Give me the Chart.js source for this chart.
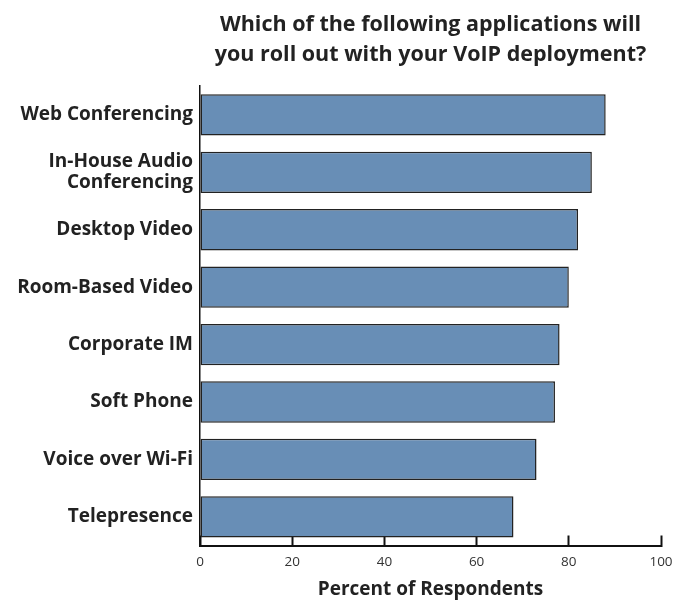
<!DOCTYPE html>
<html>
<head>
<meta charset="utf-8">
<script src="https://cdn.jsdelivr.net/npm/chart.js@4/dist/chart.umd.min.js"></script>
<style>
  html, body { margin: 0; padding: 0; background: #fff; }
  #wrap { width: 675px; height: 600px; }
</style>
</head>
<body>
<div id="wrap"><canvas id="chart"></canvas></div>
<script>
  // chart data
  const categories = [
    'Web Conferencing',
    ['In-House Audio', 'Conferencing'],
    'Desktop Video',
    'Room-Based Video',
    'Corporate IM',
    'Soft Phone',
    'Voice over Wi-Fi',
    'Telepresence'
  ];
  const percentValues = [88, 85, 82, 80, 78, 77, 73, 68];
  const xTicks = [0, 20, 40, 60, 80, 100];
  const titleLines = ['Which of the following applications will', 'you roll out with your VoIP deployment?'];
  const xTitle = 'Percent of Respondents';

  const fontFamily = '"Open Sans", Lato, sans-serif';

  const ctx = document.getElementById('chart').getContext('2d');
  const chart = new Chart(ctx, {
    type: 'bar',
    data: {
      labels: categories,
      datasets: [{
        data: percentValues,
        backgroundColor: '#688eb6',
        borderColor: '#222222',
        borderWidth: 1.5,
        borderSkipped: false,
        categoryPercentage: 1,
        barPercentage: 0.72
      }]
    },
    options: {
      indexAxis: 'y',
      responsive: true,
      maintainAspectRatio: false,
      animation: false,
      layout: { padding: 0 },
      plugins: {
        legend: { display: false },
        tooltip: { enabled: false },
        title: {
          display: true,
          fullSize: false, // centre over the plot area
          text: titleLines,
          color: '#222',
          font: { family: fontFamily, size: 21.5, weight: 'bold', lineHeight: 1.4 },
          padding: { top: 10, bottom: 16 }
        }
      },
      scales: {
        x: {
          min: 0,
          max: 100,
          afterBuildTicks: (scale) => {
            scale.ticks = xTicks.map(v => ({ value: v }));
          },
          afterFit: (scale) => {
            scale.height = 54.5;
            scale.paddingLeft = 0;
            scale.paddingRight = 14;
          },
          grid: {
            drawOnChartArea: false,
            drawTicks: true,
            tickLength: -10,
            tickWidth: 2,
            tickColor: '#111'
          },
          border: { display: true, color: '#111', width: 2 },
          ticks: {
            padding: 19,
            color: '#333',
            font: { family: fontFamily, size: 13.5 }
          },
          title: {
            display: true,
            text: xTitle,
            color: '#222',
            font: { family: fontFamily, size: 19, weight: 'bold', lineHeight: 1.1 },
            padding: { top: 9, bottom: 0 }
          }
        },
        y: {
          afterFit: (scale) => {
            scale.width = 200;
            scale.paddingTop = 0;
            scale.paddingBottom = 0;
          },
          grid: { display: false, drawTicks: false },
          border: { display: true, color: '#111', width: 1.5 },
          ticks: {
            padding: 7,
            color: '#222',
            font: { family: fontFamily, size: 19, weight: 'bold', lineHeight: 1.1 }
          }
        }
      }
    }
  });
</script>
</body>
</html>
